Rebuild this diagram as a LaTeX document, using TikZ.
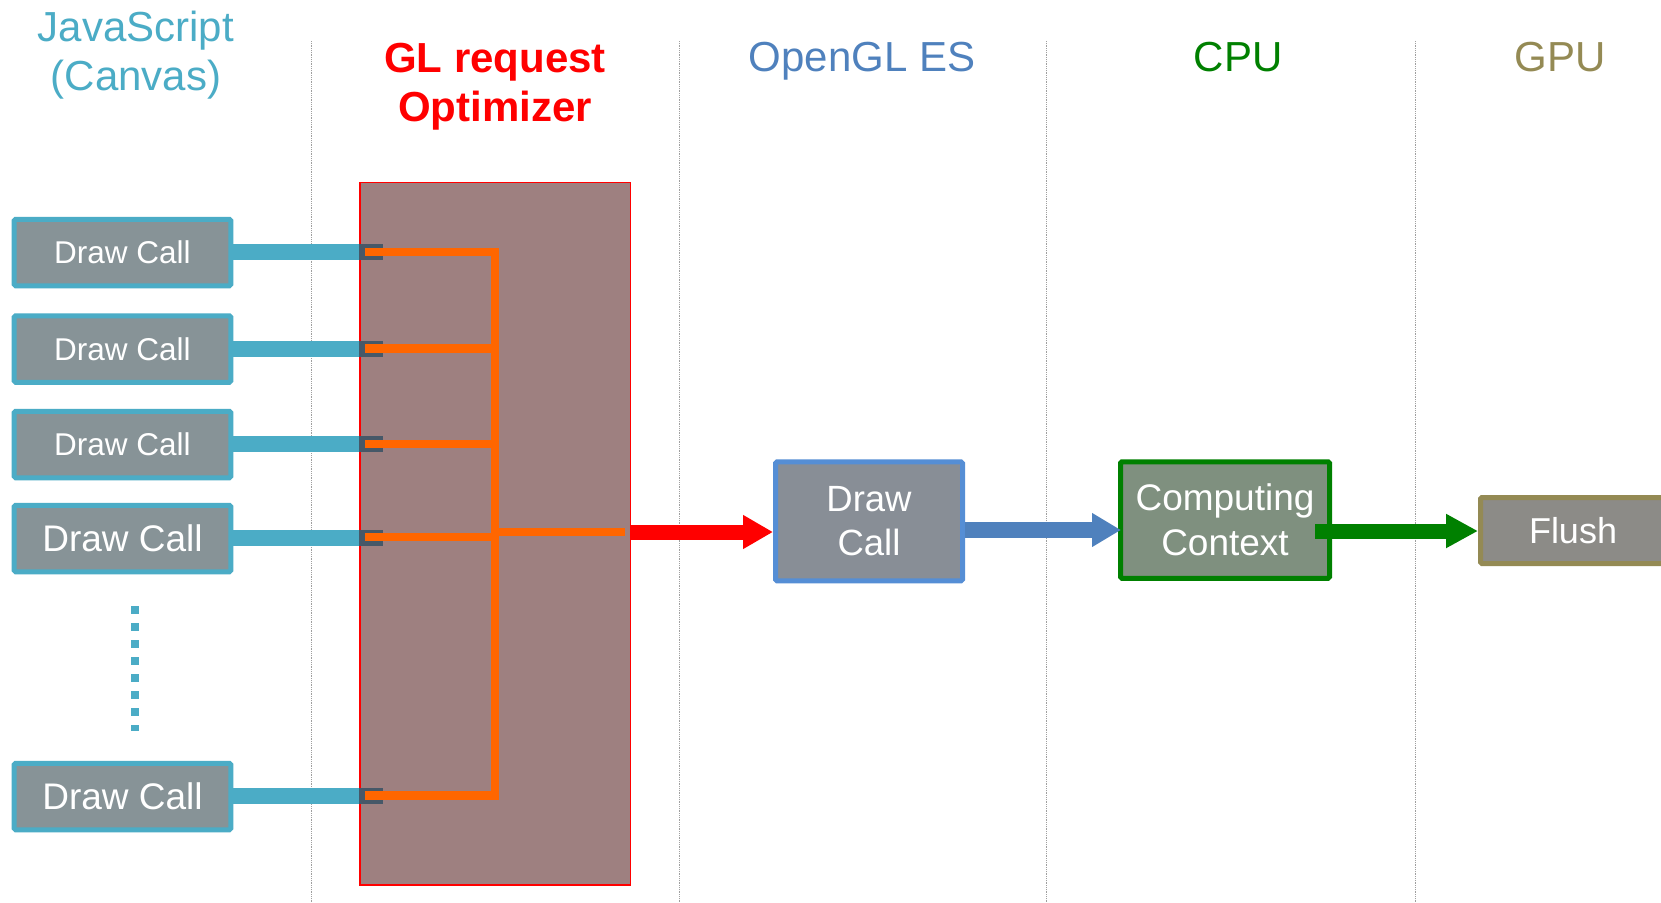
\documentclass[tikz,border=0pt]{standalone}
\usepackage{fontspec}
\setmainfont{Liberation Sans}
\usetikzlibrary{arrows.meta,calc}

\definecolor{jsteal}{HTML}{4BACC6}
\definecolor{glblue}{HTML}{4F81BD}
\definecolor{glborder}{HTML}{558ED5}
\definecolor{cpugreen}{HTML}{008000}
\definecolor{gpuolive}{HTML}{948A54}
\definecolor{optfill}{HTML}{9E8080}
\definecolor{slotgray}{HTML}{465868}
\definecolor{wire}{HTML}{FF6600}
\definecolor{callfill}{HTML}{879397}
\definecolor{glfill}{HTML}{888E96}
\definecolor{cpufill}{HTML}{7F907F}
\definecolor{gpufill}{HTML}{8C8B87}

\begin{document}
\begin{tikzpicture}[x=1pt,y=-1pt,
  lane/.style={gray!75, line width=0.8pt, densely dotted},
  title/.style={anchor=base, inner sep=0pt, align=center,
    font=\fontsize{42}{49}\selectfont},
  box/.style={line width=5pt, rounded corners=1.5pt, inner sep=0pt,
    text=white, align=center},
  callbox/.style={box, draw=jsteal, fill=callfill,
    minimum width=216.6pt, minimum height=66.5pt},
  callsmall/.style={callbox, font=\fontsize{31.5}{38}\selectfont},
  calllarge/.style={callbox, font=\fontsize{37}{44}\selectfont},
  glbox/.style={box, draw=glborder, fill=glfill,
    minimum width=187pt, minimum height=119pt,
    font=\fontsize{36.5}{44}\selectfont},
  cpubox/.style={box, draw=cpugreen, fill=cpufill,
    minimum width=209pt, minimum height=116.5pt,
    font=\fontsize{37}{44.5}\selectfont},
  gpubox/.style={box, draw=gpuolive, fill=gpufill,
    minimum width=185pt, minimum height=66pt,
    font=\fontsize{36}{44}\selectfont},
  optbox/.style={draw=red, fill=optfill, line width=1.5pt,
    minimum width=270.5pt, minimum height=702.5pt, inner sep=0pt},
  slotbox/.style={fill=slotgray, minimum width=24pt, minimum height=16pt,
    inner sep=0pt, anchor=west},
  feed/.style={jsteal, line width=16pt},
  wireline/.style={wire, line width=8.5pt, line join=miter},
  flow/.style={line width=#1},
]
\useasboundingbox (0,0) rectangle (1661,902);
\fill[white] (0,0) rectangle (1661,902);

% column separators
\foreach \x in {311.5,679,1046.6,1415}
  \draw[lane] (\x,41) -- (\x,902);

% column headings (multi-line headings sit on their last baseline)
\node[title, text=jsteal] (hjs) at (136,90.7) {JavaScript\\(Canvas)};
\node[title, text=red, font=\fontsize{42}{49}\selectfont\bfseries] (hopt) at (495,121.7) {GL request\\Optimizer};
\node[title, text=glblue] (hgl) at (862,71.7) {OpenGL ES};
\node[title, text=cpugreen] (hcpu) at (1238,71.7) {CPU};
\node[title, text=gpuolive] (hgpu) at (1560,71.7) {GPU};

% draw-call sockets on the optimizer
\node[slotbox] (s1) at (359,252) {};
\node[slotbox] (s2) at (359,348.5) {};
\node[slotbox] (s3) at (359,444) {};
\node[slotbox] (s4) at (359,538) {};
\node[slotbox] (s5) at (359,796) {};

% JavaScript draw calls
\node[callsmall] (c1) at (122.5,252.5) {Draw Call};
\node[callsmall] (c2) at (122.5,349) {Draw Call};
\node[callsmall] (c3) at (122.5,444.5) {Draw Call};
\node[calllarge] (c4) at (122.5,538.5) {Draw Call};
\node[calllarge] (c5) at (122.5,796.5) {Draw Call};

% feeds into the optimizer (underneath it)
\foreach \i in {1,...,5}
  \draw[feed] (c\i.east |- s\i.east) -- (s\i.east);

% optimizer block
\node[optbox] (opt) at (495,533.5) {};
\foreach \i in {1,...,5}
  \node[slotbox] at (s\i.west) {};

% merging bus inside the optimizer
\coordinate (bt) at (495,252);
\coordinate (bb) at (495,795.5);
\coordinate (bm) at (495,532);
\coordinate (bo) at (625,532);
\draw[wireline] ($(s1.west)+(6,0)$) -- (bt) -- (bb) -- ($(s5.west)+(6,-0.5)$);
\draw[wireline] ($(s2.west)+(6,0)$) -- (s2.west -| bt);
\draw[wireline] ($(s3.west)+(6,0)$) -- (s3.west -| bt);
\draw[wireline] ($(s4.west)+(6,-1)$) -- ($(s4.west -| bt)+(0,-1)$);
\draw[wireline] (bm) -- (bo);

% ellipsis between the call boxes
\coordinate (d1) at (135,606);
\coordinate (d2) at (135,731);
\draw[jsteal, line width=8pt, dash pattern=on 8pt off 9pt] (d1) -- (d2);

% pipeline stages
\node[glbox] (dc) at (869,521.3) {Draw\\Call};
\node[cpubox] (cc) at (1225,520) {Computing\\Context};
\node[gpubox] (fl) at (1573,530.5) {Flush};

% pipeline arrows
\coordinate (yr) at (0,532);
\coordinate (yb) at (0,530);
\coordinate (yg) at (0,531);
\draw[flow=15pt, red, -{Triangle[length=30pt,width=32pt]}]
  (opt.east |- yr) -- (dc.west |- yr);
\draw[flow=16pt, glblue, -{Triangle[length=29pt,width=32pt]}]
  (dc.east |- yb) -- ($(cc.west |- yb)+(3,0)$);
\draw[flow=15pt, cpugreen, -{Triangle[length=32pt,width=32pt]}]
  ($(cc.east |- yg)+(-17,0)$) -- (fl.west |- yg);
\end{tikzpicture}
\end{document}
